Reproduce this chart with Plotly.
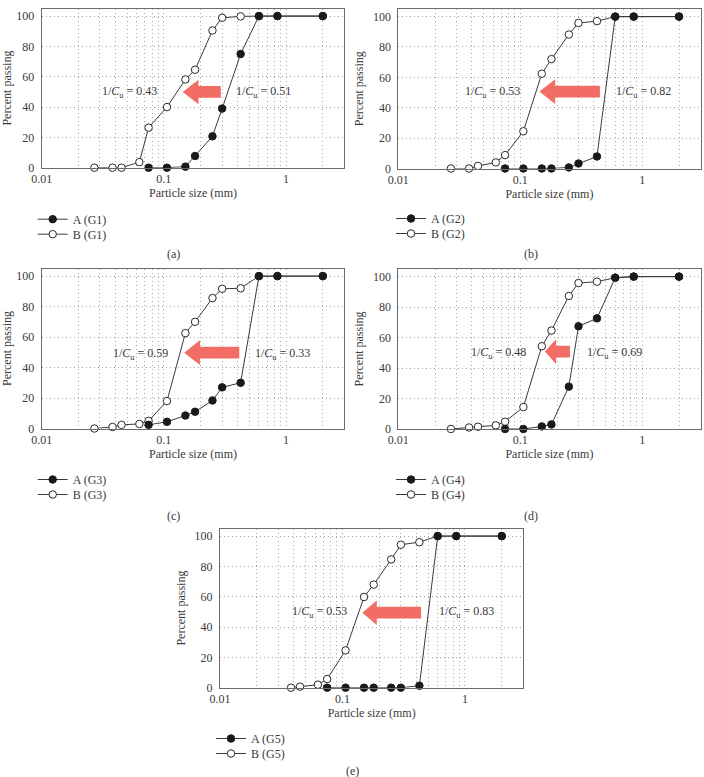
import plotly.graph_objects as go

# ---------------- data ----------------
sizes = [0.027, 0.038, 0.045, 0.063, 0.075, 0.106, 0.15, 0.18, 0.25, 0.3, 0.425, 0.6, 0.85, 2.0]
sizes_A = [0.075, 0.106, 0.15, 0.18, 0.25, 0.3, 0.425, 0.6, 0.85, 2.0]
sizes_B5 = sizes[1:]

A_G1 = [0, 0, 0.7, 7.7, 20.7, 39, 75, 100, 100, 100]
B_G1 = [0, 0, 0, 3.7, 26.4, 40, 58.2, 64.6, 90.5, 98.9, 99.8, 100, 100, 100]
A_G2 = [0, 0, 0, 0, 0.7, 3.3, 7.9, 100, 100, 100]
B_G2 = [0, 0, 1.7, 4, 8.8, 24.5, 62.4, 72, 88.2, 95.8, 97, 100, 100, 100]
A_G3 = [2.4, 4.4, 8.5, 11, 18.4, 27, 30, 100, 100, 100]
B_G3 = [0, 1, 2.4, 3, 5, 18, 62.6, 70, 85.6, 91.7, 92, 100, 100, 100]
A_G4 = [0, 0, 1.7, 3, 27.8, 67.4, 72.6, 99.3, 100, 100]
B_G4 = [0, 1, 1.5, 2.4, 4.8, 14.4, 54.3, 64.6, 87.3, 95.8, 96.7, 99.3, 100, 100]
A_G5 = [0, 0, 0, 0, 0, 0, 1.3, 100, 100, 100]
B_G5 = [0, 0.7, 2, 5.7, 24.6, 59.8, 68, 84.6, 94.3, 96, 100, 100, 100]

groups = ["G1", "G2", "G3", "G4", "G5"]
captions = ["(a)", "(b)", "(c)", "(d)", "(e)"]
uc_A = ["0.51", "0.82", "0.33", "0.69", "0.83"]
uc_B = ["0.43", "0.53", "0.59", "0.48", "0.53"]
x_ticks = [0.01, 0.1, 1]
x_ticktext = ["0.01", "0.1", "1"]
y_ticks = [0, 20, 40, 60, 80, 100]

A_data = [(sizes_A, A_G1), (sizes_A, A_G2), (sizes_A, A_G3), (sizes_A, A_G4), (sizes_A, A_G5)]
B_data = [(sizes, B_G1), (sizes, B_G2), (sizes, B_G3), (sizes, B_G4), (sizes_B5, B_G5)]

# ---------------- layout (pixel geometry) ----------------
W, H = 704, 777
boxes = [
    (41.7, 344.3, 8.5, 167.7),
    (398.3, 700.5, 9.0, 168.5),
    (41.7, 344.3, 268.5, 428.5),
    (398.3, 700.5, 269.0, 429.0),
    (220.0, 523.3, 528.5, 687.7),
]
arrows = [
    (0.466, 0.518, 0.592, 0.476),
    (0.467, 0.519, 0.667, 0.482),
    (0.471, 0.523, 0.653, 0.474),
    (0.485, 0.522, 0.568, 0.484),
    (0.469, 0.517, 0.663, 0.471),
]
body_half, head_half = 0.037, 0.077
labels = [
    (0.289, 0.732, 0.477),
    (0.311, 0.811, 0.482),
    (0.325, 0.796, 0.466),
    (0.333, 0.715, 0.473),
    (0.327, 0.813, 0.474),
]
# legend: marker centre x (px), row centres y (px)
legend_pos = [(51.7, 217.7, 232.7), (410.0, 217.0, 232.0), (51.7, 478.0, 493.0),
              (410.0, 478.0, 493.0), (230.0, 737.0, 752.0)]
caption_pos = [(173, 254), (531, 254), (173, 516), (531, 516), (352, 771)]

FONT = "Liberation Serif, Times New Roman, serif"
TXT = "#3a3a3a"
GRID = "#a8a8a8"
ARROW = "#F26D63"
DOT = "1px,3px"

fig = go.Figure()
layout = dict(
    width=W, height=H, margin=dict(l=0, r=0, t=0, b=0, autoexpand=False),
    paper_bgcolor="white", plot_bgcolor="white",
    font=dict(family=FONT, size=12, color=TXT),
    showlegend=True,
)
shapes, annotations = [], []

minor_vals = [m * 10 ** e for e in (-2, -1, 0) for m in range(2, 10) if m * 10 ** e < 3.05]

for i in range(5):
    n = "" if i == 0 else str(i + 1)
    xa, ya = "x" + n, "y" + n
    legA = "legend" + ("" if i == 0 else str(2 * i + 1))
    legB = "legend" + str(2 * i + 2)
    L, R, T, B = boxes[i]
    layout["xaxis" + n] = dict(
        domain=[L / W, R / W], anchor=ya, type="log", range=[-2, 0.477],
        tickvals=x_ticks, ticktext=x_ticktext, ticks="", showline=True, mirror=True,
        linecolor="#6a6a6a", linewidth=1, showgrid=True, gridcolor=GRID, griddash=DOT,
        gridwidth=1, zeroline=False, tickfont=dict(family=FONT, size=12, color=TXT),
        minor=dict(tickvals=minor_vals, showgrid=True, gridcolor=GRID, griddash=DOT, ticks=""),
        title=dict(text="Particle size (mm)", font=dict(family=FONT, size=12, color=TXT), standoff=3),
        ticklabelstandoff=0,
    )
    layout["yaxis" + n] = dict(
        domain=[1 - B / H, 1 - T / H], anchor=xa, range=[0, 105], tickvals=y_ticks,
        ticks="", showline=True, mirror=True, linecolor="#6a6a6a", linewidth=1,
        showgrid=True, gridcolor=GRID, griddash=DOT, zeroline=False,
        tickfont=dict(family=FONT, size=12, color=TXT),
        title=dict(text="Percent passing", font=dict(family=FONT, size=12, color=TXT), standoff=6),
        ticklabelstandoff=4,
    )
    mx, ry1, ry2 = legend_pos[i]
    for leg, ry in ((legA, ry1), (legB, ry2)):
        layout[leg] = dict(
            x=(mx - 19) / W, y=1 - (ry - 13) / H, xanchor="left", yanchor="top",
            bgcolor="rgba(0,0,0,0)", itemwidth=30, font=dict(family=FONT, size=12, color=TXT),
        )

    bx, by = B_data[i]
    fig.add_trace(go.Scatter(
        x=bx, y=by, mode="lines+markers", name=f"B ({groups[i]})", xaxis=xa, yaxis=ya,
        legend=legB, cliponaxis=False,
        line=dict(color="#3a3a3a", width=1),
        marker=dict(symbol="circle", size=7.5, color="white", line=dict(color="#2a2a2a", width=1)),
    ))
    ax_, ay_ = A_data[i]
    fig.add_trace(go.Scatter(
        x=ax_, y=ay_, mode="lines+markers", name=f"A ({groups[i]})", xaxis=xa, yaxis=ya,
        legend=legA, cliponaxis=False,
        line=dict(color="#3a3a3a", width=1),
        marker=dict(symbol="circle", size=7.5, color="#1a1a1a", line=dict(color="#1a1a1a", width=1)),
    ))

    tip, base, tail, yc = arrows[i]
    path = (f"M{tail},{yc + body_half} L{base},{yc + body_half} L{base},{yc + head_half} "
            f"L{tip},{yc} L{base},{yc - head_half} L{base},{yc - body_half} "
            f"L{tail},{yc - body_half} Z")
    shapes.append(dict(type="path", path=path, xref=xa + " domain", yref=ya + " domain",
                       fillcolor=ARROW, line=dict(width=0), layer="above"))

    bxl, axl, yl = labels[i]
    for txt, xx in ((uc_B[i], bxl), (uc_A[i], axl)):
        annotations.append(dict(text=f"1/<i>C</i><sub>u</sub> = {txt}", x=xx, y=yl,
                                xref=xa + " domain", yref=ya + " domain", showarrow=False,
                                xanchor="center", yanchor="middle",
                                font=dict(family=FONT, size=12, color=TXT)))
    cx, cy = caption_pos[i]
    annotations.append(dict(text=captions[i], x=cx / W, y=1 - cy / H, xref="paper", yref="paper",
                            xanchor="center", yanchor="middle",
                            showarrow=False, font=dict(family=FONT, size=12, color=TXT)))

layout["shapes"] = shapes
layout["annotations"] = annotations
fig.update_layout(**layout)
fig.write_html("out.html")
